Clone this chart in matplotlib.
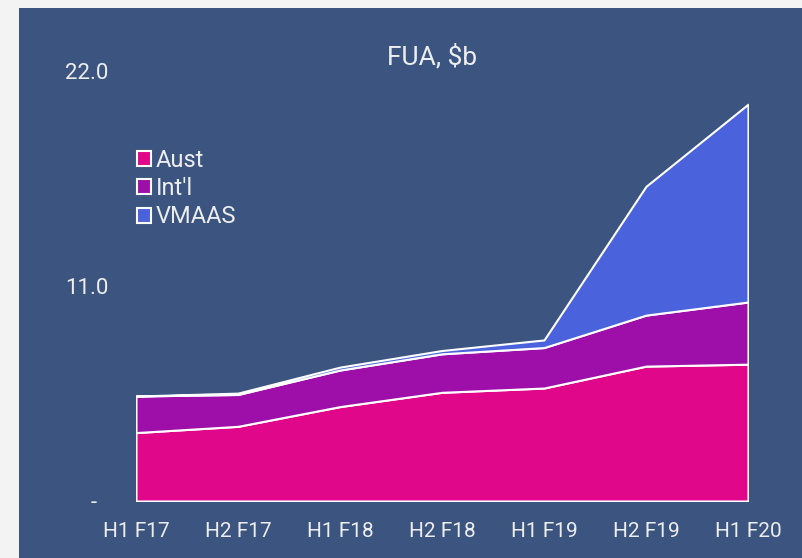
import matplotlib.pyplot as plt
from matplotlib.patches import Rectangle, Patch

plt.rcParams['font.family'] = ['Roboto', 'DejaVu Sans']

periods = ['H1 F17', 'H2 F17', 'H1 F18', 'H2 F18', 'H1 F19', 'H2 F19', 'H1 F20']
aust = [3.50, 3.82, 4.83, 5.56, 5.78, 6.90, 7.00]
intl = [1.87, 1.63, 1.87, 1.97, 2.07, 2.61, 3.18]
vmaas = [0.00, 0.07, 0.15, 0.17, 0.39, 6.59, 10.12]
series_names = ['Aust', "Int'l", 'VMAAS']
series_colors = ['#E0078A', '#9D0FA8', '#4A62DC']
y_ticks = [0, 11, 22]
y_labels = ['-  ', '11.0', '22.0']

bg = '#3B5580'
txt = '#EDEDED'
W, H = 803, 558

fig = plt.figure(figsize=(W / 100, H / 100), dpi=100, facecolor='#F3F3F3')
fig.patches.append(Rectangle((19 / W, 0), 1 - 19 / W, 1 - 8 / H,
                             transform=fig.transFigure, facecolor=bg,
                             edgecolor='none', zorder=-10))

ax = fig.add_axes([136 / W, 1 - 501 / H, 612 / W, 430 / H])
ax.set_facecolor('none')
x = list(range(len(periods)))
ax.stackplot(x, aust, intl, vmaas, colors=series_colors,
             edgecolor='white', linewidth=1.5)

ax.set_xlim(0, len(periods) - 1)
ax.set_ylim(0, 22)
ax.set_xticks(x)
ax.set_xticklabels(periods)
ax.set_yticks(y_ticks)
ax.set_yticklabels(y_labels)
ax.tick_params(axis='x', length=0, pad=15, labelsize=15, colors=txt)
ax.tick_params(axis='y', length=0, pad=20, labelsize=16, colors=txt)
for s in ax.spines.values():
    s.set_visible(False)

fig.text(432 / W, 1 - 57 / H, 'FUA, $b', fontsize=19, color=txt,
         ha='center', va='center')

handles = [Patch(facecolor=c, edgecolor='white', linewidth=1.5)
           for c in series_colors]
leg = ax.legend(handles, series_names, loc='upper left',
                bbox_to_anchor=(137 / W, 1 - 149 / H),
                bbox_transform=fig.transFigure, frameon=False,
                fontsize=17, labelcolor=txt, handlelength=0.6,
                handleheight=0.6, handletextpad=0.2, labelspacing=0.22,
                borderaxespad=0, borderpad=0)

fig.savefig('out.png', dpi=100, facecolor=fig.get_facecolor())
